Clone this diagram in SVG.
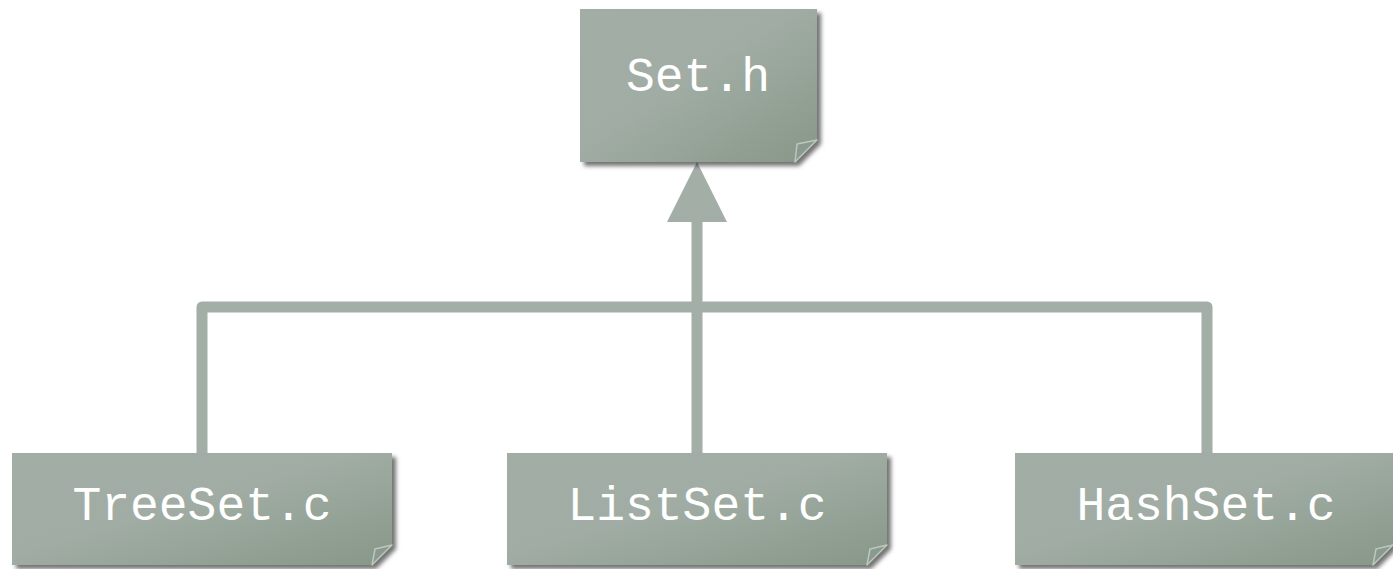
<svg xmlns="http://www.w3.org/2000/svg" width="1393" height="569" viewBox="0 0 1393 569">
  <defs>
    <linearGradient id="paper" x1="0" y1="0" x2="1" y2="1">
      <stop offset="0" stop-color="#a2aea5"/>
      <stop offset="0.45" stop-color="#a1ada4"/>
      <stop offset="1" stop-color="#879789"/>
    </linearGradient>
    <filter id="shadow" x="-5%" y="-5%" width="115%" height="120%">
      <feDropShadow dx="4" dy="4" stdDeviation="2" flood-color="#000" flood-opacity="0.55"/>
    </filter>
  </defs>
  <style>
    .note { fill: url(#paper); filter: url(#shadow); }
    .fold { fill: #8a9a8f; stroke: #bcc7bf; stroke-width: 1.5; stroke-linejoin: round; }
    .label { font-family: "Liberation Mono", "Courier New", monospace; font-size: 48px; fill: #ffffff; text-anchor: middle; }
    .wire { fill: none; stroke: #a3aea6; stroke-width: 11; stroke-linejoin: round; }
    .head { fill: #a3aea6; }
  </style>

  <!-- inheritance connectors -->
  <g id="connectors">
    <path class="wire" d="M202,453 V307 H1207 V453"/>
    <path class="wire" d="M697,453 V220"/>
    <polygon class="head" points="697,162 667,222 727,222"/>
  </g>

  <!-- Set.h -->
  <g id="set-h">
    <path class="note" d="M580,9 H817 V140 L795,162 H580 Z"/>
    <polygon class="fold" points="817,140 797,144 795,162"/>
    <text class="label" x="698" y="91">Set.h</text>
  </g>

  <!-- TreeSet.c -->
  <g id="treeset-c">
    <path class="note" d="M12,453 H392 V545 L372,565 H12 Z"/>
    <polygon class="fold" points="392,545 375,549 372,565"/>
    <text class="label" x="202" y="520">TreeSet.c</text>
  </g>

  <!-- ListSet.c -->
  <g id="listset-c">
    <path class="note" d="M507,453 H887 V545 L867,565 H507 Z"/>
    <polygon class="fold" points="887,545 870,549 867,565"/>
    <text class="label" x="697" y="520">ListSet.c</text>
  </g>

  <!-- HashSet.c -->
  <g id="hashset-c">
    <path class="note" d="M1015,453 H1393 V545 L1373,565 H1015 Z"/>
    <polygon class="fold" points="1393,545 1376,549 1373,565"/>
    <text class="label" x="1206" y="520">HashSet.c</text>
  </g>
</svg>
